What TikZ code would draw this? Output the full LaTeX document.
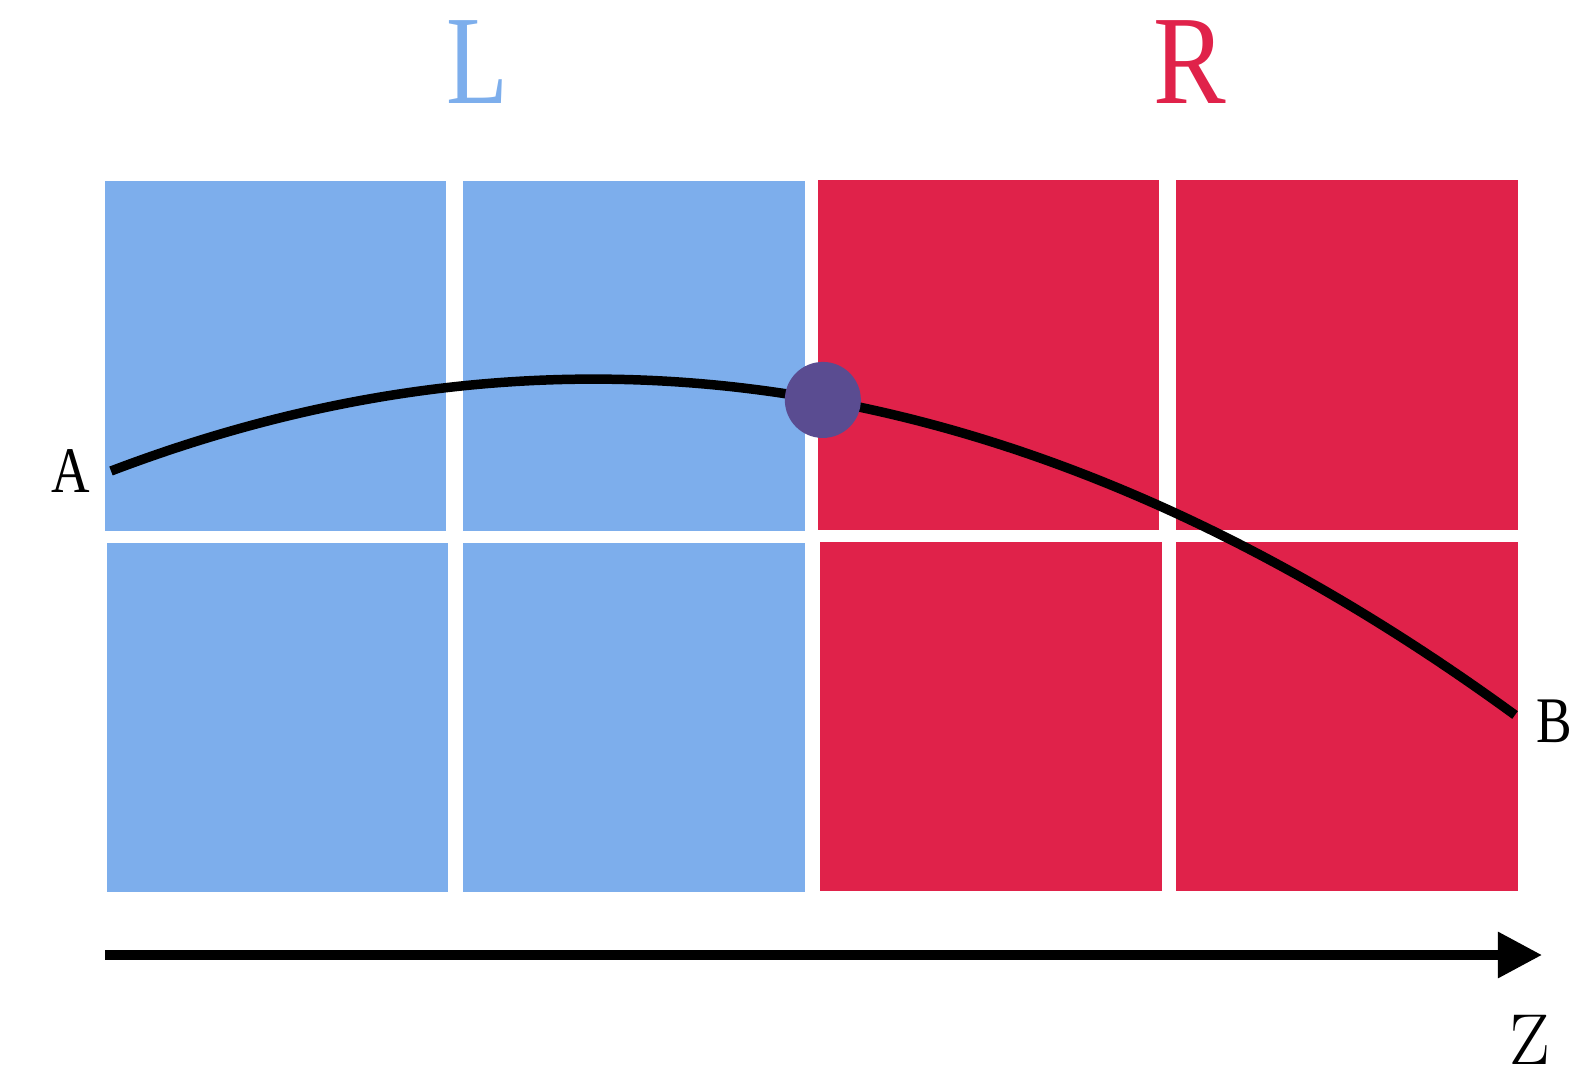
\documentclass[tikz,border=0pt]{standalone}
\usepackage{fontspec}
\usepackage{xcolor}
\usepackage{tikz}
\usetikzlibrary{arrows.meta,positioning}

\newfontfamily\lblfont{Liberation Serif}
\definecolor{leftblue}{RGB}{125,174,236}
\definecolor{rightred}{RGB}{224,34,74}
\definecolor{hitviolet}{RGB}{90,76,145}

\begin{document}
\begin{tikzpicture}[
  x=0.01cm,
  y=-0.01cm,
  cell/.style={minimum width=3.41cm, minimum height=3.49cm, inner sep=0pt, draw=none},
  lcell/.style={cell, fill=leftblue},
  rcell/.style={cell, fill=rightred},
  side/.style={font=\lblfont\fontsize{36}{36}\selectfont, inner sep=0pt},
  ptlabel/.style={font=\lblfont\fontsize{18.5}{18.5}\selectfont, inner sep=0pt},
  track/.style={line width=2.7pt, draw=black},
  crossing/.style={circle, fill=hitviolet, minimum size=0.76cm, inner sep=0pt},
  axis/.style={-{Triangle[length=4.4mm,width=4.4mm]}, line width=2.6pt, draw=black}
]
\useasboundingbox (0,0) rectangle (1579,1076);

% Side titles.
\node[side, text=leftblue] (ltitle) at (477,62) {\scalebox{0.8}[1]{L}};
\node[side, text=rightred] (rtitle) at (1190,62) {\scalebox{0.86}[1]{R}};

% Left region cells.
\node[lcell] (l11) at (275.4,356) {};
\node[lcell] (l12) at (633.9,356) {};
\node[lcell] (l21) at (277.4,717.5) {};
\node[lcell] (l22) at (633.9,717.5) {};

% Right region cells.
\node[rcell] (r11) at (988.4,355) {};
\node[rcell] (r12) at (1346.9,355) {};
\node[rcell] (r21) at (990.9,716.5) {};
\node[rcell] (r22) at (1346.9,716.5) {};

% Track from A to B, crossing the interface.
\coordinate (pstart) at (111,471);
\coordinate (pend) at (1515,715);
\node[ptlabel, left=2mm of pstart] (alabel) {\scalebox{0.82}[1]{A}};
\node[ptlabel, right=2.1mm of pend, yshift=-0.6mm] (blabel) {\scalebox{0.82}[1]{B}};
\draw[track] (pstart) .. controls (579,292.7) and (1047,373.8) .. (pend)
  node[crossing, pos=0.507] (hit) {};

% Z axis.
\coordinate (zstart) at (105,955);
\coordinate (zend) at (1542,955);
\draw[axis] (zstart) -- (zend);
\node[font=\fontsize{20.5}{20.5}\selectfont, inner sep=0pt] (zlabel) at (1530,1040) {Z};

\end{tikzpicture}
\end{document}
